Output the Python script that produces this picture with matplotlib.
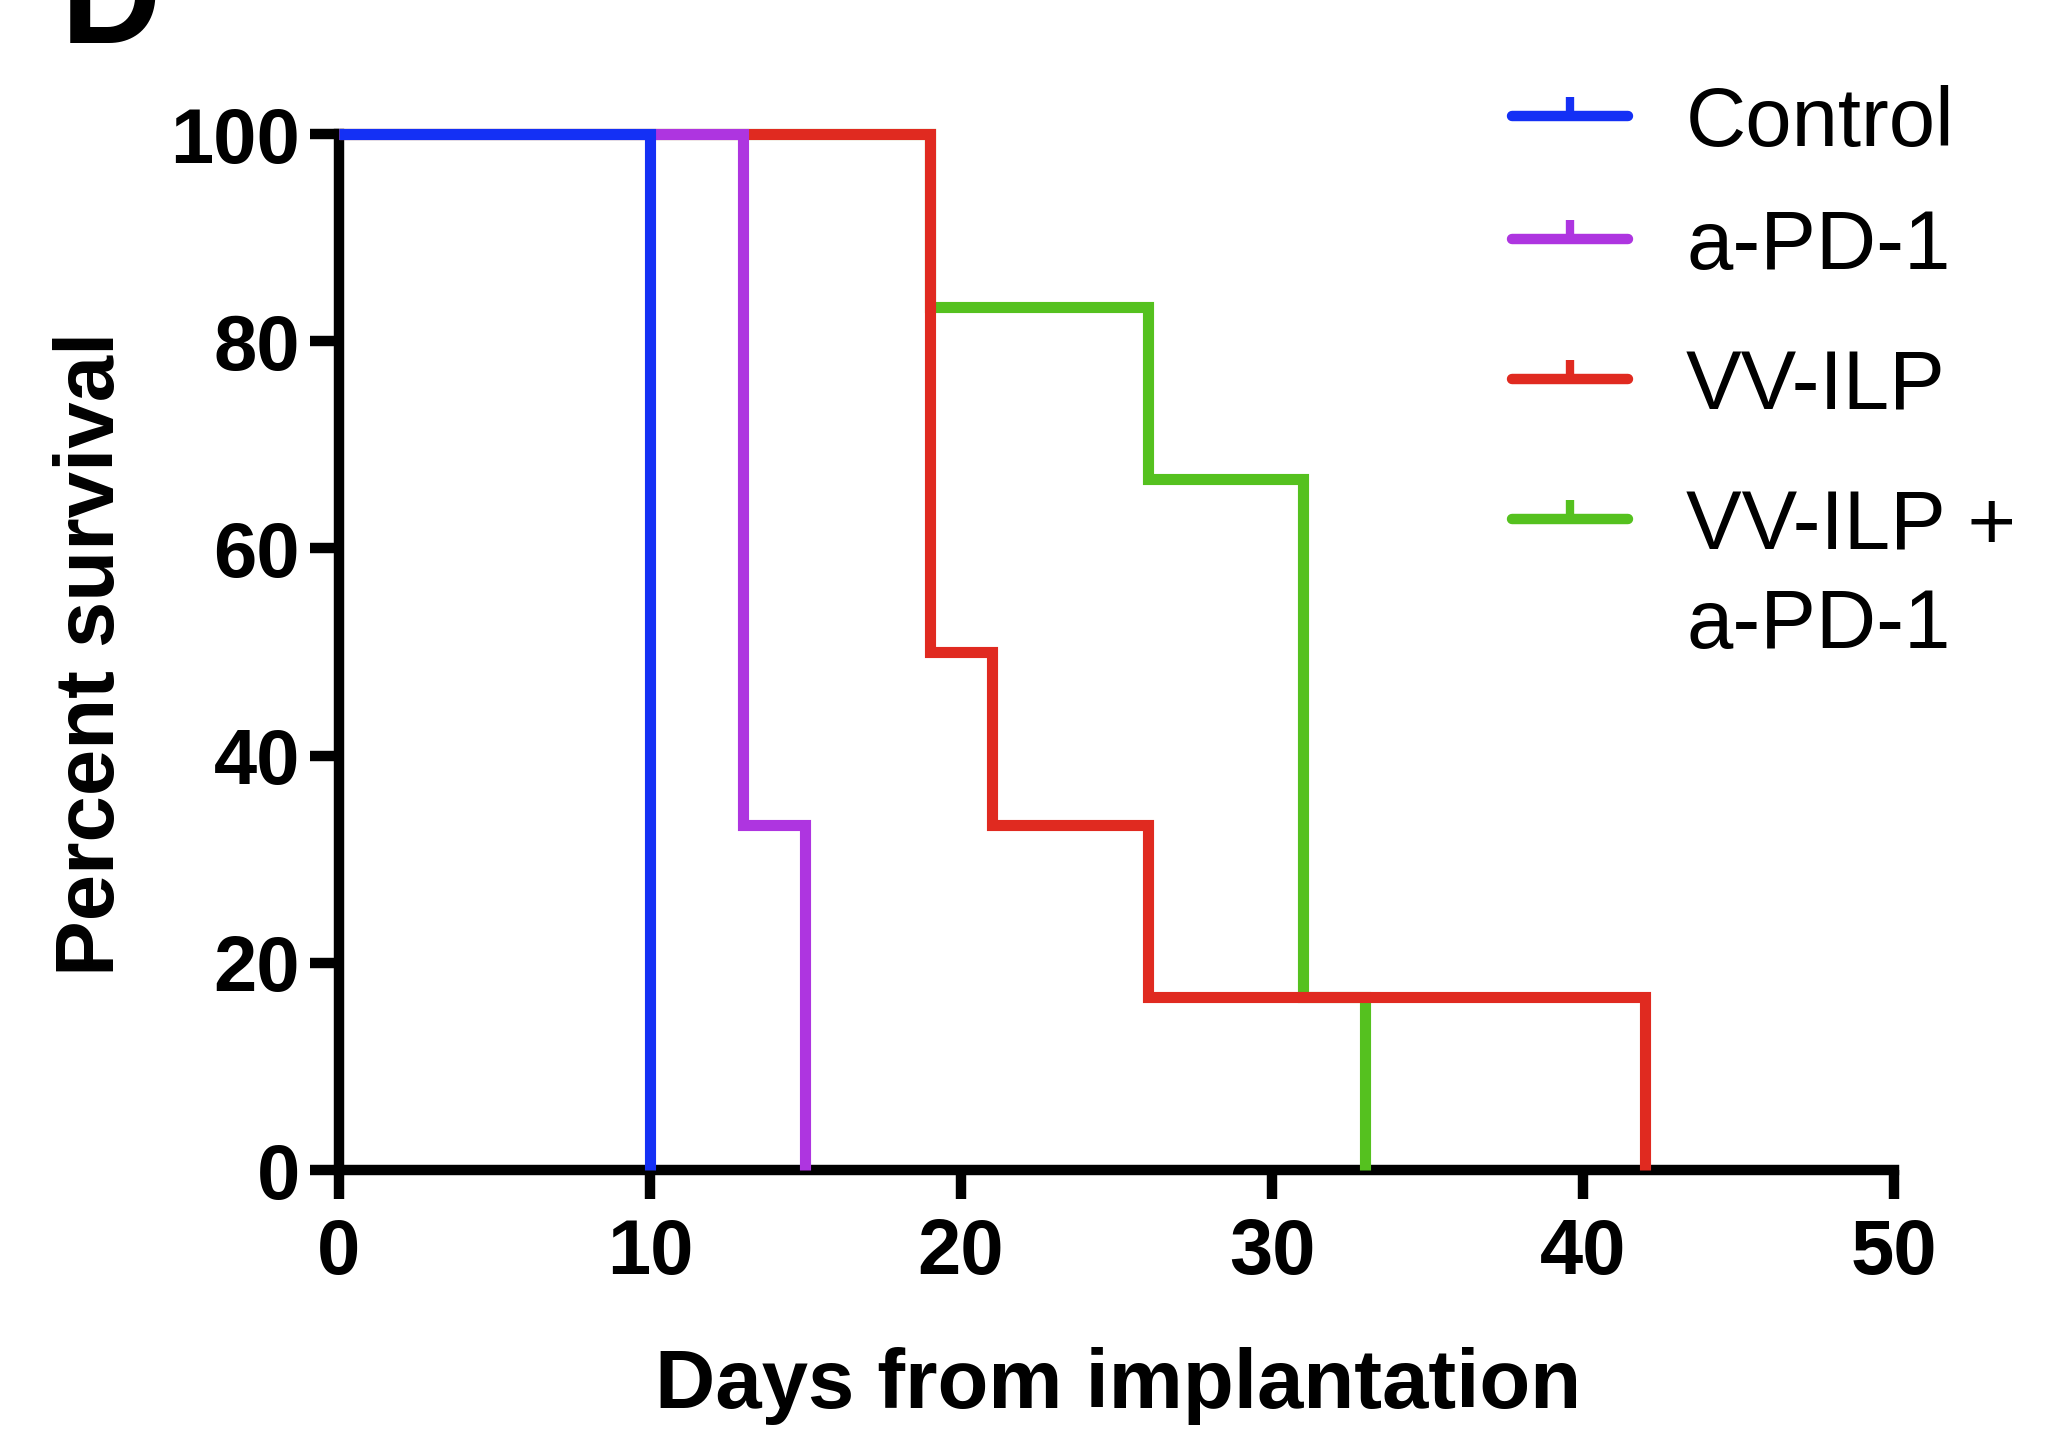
import matplotlib.pyplot as plt
from matplotlib.lines import Line2D

plt.rcParams['font.family'] = ['Liberation Sans', 'DejaVu Sans']

## datos de supervivencia (Kaplan-Meier), dias y porcentaje
groups = ["Control", "a-PD-1", "VV-ILP", "VV-ILP +\na-PD-1"]
colors = ["#1430F5", "#AE35E0", "#E02A20", "#55C11F"]

days_control = [0, 10]
surv_control = [100, 0]

days_pd1 = [0, 13, 15]
surv_pd1 = [100, 33.33, 0]

days_vv = [0, 19, 21, 26, 42]
surv_vv = [100, 50, 33.33, 16.67, 0]

days_combo = [0, 19, 26, 31, 33]
surv_combo = [100, 83.33, 66.67, 16.67, 0]

x_ticks = [0, 10, 20, 30, 40, 50]
y_ticks = [0, 20, 40, 60, 80, 100]

series = [(days_control, surv_control), (days_pd1, surv_pd1),
          (days_vv, surv_vv), (days_combo, surv_combo)]

fig = plt.figure(figsize=(20.62, 14.37), dpi=100)
ax = fig.add_axes([0.1644, 0.1858, 0.9185 - 0.1644, 0.9067 - 0.1858])

## curvas, la primera queda encima
for k in range(len(series) - 1, -1, -1):
    d, s = series[k]
    ax.step(d, s, where='post', color=colors[k], lw=8, clip_on=False,
            solid_capstyle='butt', solid_joinstyle='miter', zorder=3 + (4 - k))

ax.set_xlim(0, 50)
ax.set_ylim(0, 100)
ax.set_xticks(x_ticks)
ax.set_yticks(y_ticks)

for side in ['top', 'right']:
    ax.spines[side].set_visible(False)
for side in ['left', 'bottom']:
    ax.spines[side].set_linewidth(7.5)
    ax.spines[side].set_capstyle('projecting')

ax.tick_params(axis='both', width=7.5, length=21, labelsize=56)
ax.tick_params(axis='x', pad=13)
ax.tick_params(axis='y', pad=7)
for lab in ax.get_xticklabels() + ax.get_yticklabels():
    lab.set_fontweight('bold')

fig.text(0.542, 0.020, "Days from implantation", ha='center', va='baseline',
         fontsize=60, fontweight='bold')
fig.text(0.0446, 1 - 654 / 1437, "Percent survival", ha='center', va='center',
         rotation=90, fontsize=60, fontweight='bold')

## letra del panel
fig.text(0.0296, 0.970, "D", ha='left', va='baseline', fontsize=100,
         fontweight='bold')

## leyenda a mano
row_y = [116, 239, 379, 519]
line_step = 99
for k, name in enumerate(groups):
    yf = 1 - row_y[k] / 1437
    fig.add_artist(Line2D([0.7333, 0.7895], [yf, yf], transform=fig.transFigure,
                          color=colors[k], lw=7.5, solid_capstyle='round'))
    fig.add_artist(Line2D([0.7614, 0.7614], [yf, yf + 0.013], transform=fig.transFigure,
                          color=colors[k], lw=6, solid_capstyle='butt'))
    for j, part in enumerate(name.split("\n")):
        yb = 1 - (row_y[k] + 30 + j * line_step) / 1437
        fig.text(0.8177, yb, part, ha='left', va='baseline', fontsize=60)

fig.savefig("out.png", dpi=100)
